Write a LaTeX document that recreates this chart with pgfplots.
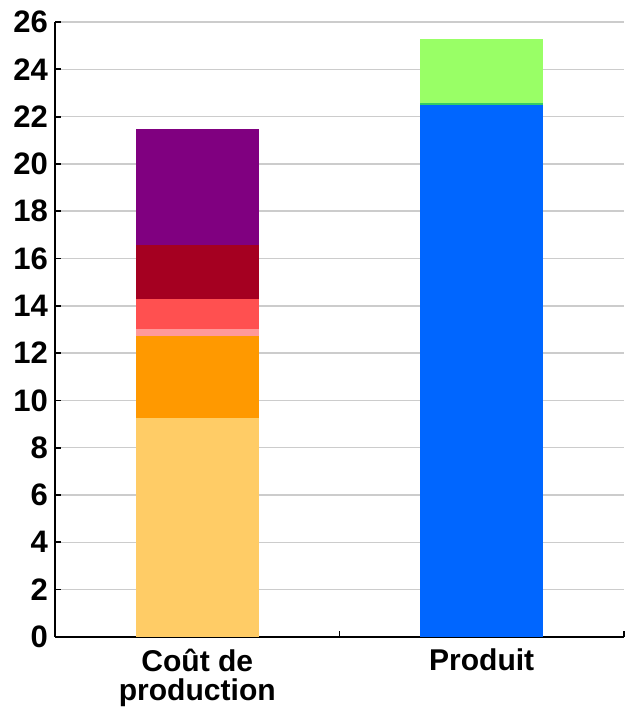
\documentclass[border=0pt]{standalone}
\usepackage{pgfplots}
\pgfplotsset{compat=1.18}
\usepackage{fontspec}
\setmainfont{Liberation Sans}
\definecolor{cYellow}{HTML}{FFCC66}
\definecolor{cOrange}{HTML}{FF9900}
\definecolor{cPink}{HTML}{FF9999}
\definecolor{cRed}{HTML}{FF5050}
\definecolor{cDarkRed}{HTML}{A50021}
\definecolor{cPurple}{HTML}{800080}
\definecolor{cBlue}{HTML}{0066FF}
\definecolor{cGreen}{HTML}{33CC66}
\definecolor{cLightGreen}{HTML}{99FF66}
\begin{document}
\begin{tikzpicture}
\useasboundingbox (-27.5pt,-39pt) rectangle (288pt,318pt);
\begin{axis}[
  scale only axis, width=284pt, height=307pt,
  xmin=0, xmax=2, ymin=0, ymax=26,
  ybar stacked, bar width=0.434,
  axis lines*=left,
  axis line style={line width=0.9pt},
  xtick={0.5,1.5},
  xticklabels={{Coût de\\production},{Produit}},
  major x tick style={draw=none},
  minor xtick={1,2},
  minor tick length=3pt,
  ytick={0,2,...,26},
  tick align=inside,
  major tick length=3pt,
  tick style={line width=0.9pt, black},
  ymajorgrids=true,
  grid style={line width=0.75pt, gray!40},
  /pgf/number format/assume math mode=true,
  x tick label style={align=center, font=\bfseries\fontsize{15}{14.5}\selectfont, yshift=-2.5pt},
  y tick label style={font=\bfseries\fontsize{15.5}{15}\selectfont},
  every axis plot/.append style={draw=none},
]
\addplot[fill=cYellow] coordinates {(0.5,9.26) (1.5,0)};
\addplot[fill=cOrange] coordinates {(0.5,3.48) (1.5,0)};
\addplot[fill=cPink] coordinates {(0.5,0.27) (1.5,0)};
\addplot[fill=cRed] coordinates {(0.5,1.27) (1.5,0)};
\addplot[fill=cDarkRed] coordinates {(0.5,2.31) (1.5,0)};
\addplot[fill=cPurple] coordinates {(0.5,4.88) (1.5,0)};
\addplot[fill=cBlue] coordinates {(0.5,0) (1.5,22.48)};
\addplot[fill=cGreen] coordinates {(0.5,0) (1.5,0.11)};
\addplot[fill=cLightGreen] coordinates {(0.5,0) (1.5,2.68)};
\end{axis}
\end{tikzpicture}
\end{document}
